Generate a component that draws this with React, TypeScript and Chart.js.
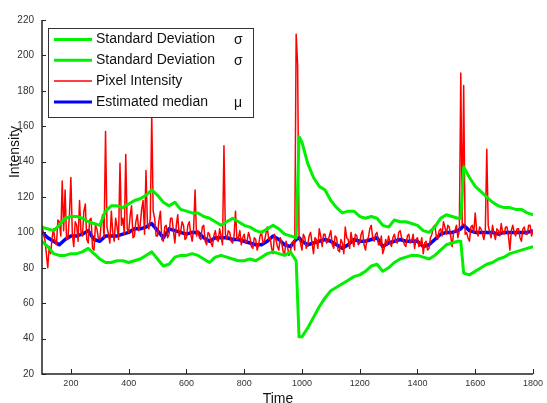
import { useEffect, useRef } from 'react';
import { Chart, registerables } from 'chart.js';

Chart.register(...registerables);

const timeSmooth = [
  100, 120, 140, 160, 180, 200, 220, 240, 260, 280,
  300, 320, 340, 360, 380, 400, 420, 440, 460, 480,
  500, 520, 540, 560, 580, 600, 620, 640, 660, 680,
  700, 720, 740, 760, 780, 800, 820, 840, 860, 880,
  900, 920, 940, 960, 980, 990,
  1000, 1020, 1040, 1060, 1080, 1100, 1120, 1140, 1160, 1180,
  1200, 1220, 1240, 1260, 1280, 1300, 1320, 1340, 1360, 1380,
  1400, 1420, 1440, 1460, 1480, 1500, 1520, 1540, 1550, 1560,
  1580, 1600, 1620, 1640, 1660, 1680, 1700, 1720, 1740, 1760,
  1780, 1800,
];

const upperStd = [
  103, 102, 101, 104, 108, 109, 109, 108, 106, 105,
  104, 112, 115, 115, 114, 116, 118, 119, 121, 124,
  121, 117, 115, 117, 113, 112, 111, 111, 109, 108,
  106, 104, 106, 108, 106, 104, 103, 101, 100, 102,
  104, 102, 99, 98, 97, 154,
  151, 139, 131, 126, 124, 118, 114, 111, 112, 112,
  109, 108, 109, 108, 104, 103, 107, 106, 106, 105,
  104, 101, 100, 103, 108, 110, 109, 108, 108, 137,
  131, 126, 123, 120, 117, 115, 114, 114, 113, 113,
  111, 110,
];

const lowerStd = [
  95, 92, 88, 87, 87, 88, 88, 89, 91, 88,
  85, 83, 83, 84, 84, 83, 84, 85, 87, 89,
  85, 81, 82, 86, 87, 87, 88, 87, 85, 83,
  86, 87, 86, 85, 84, 84, 85, 84, 86, 88,
  89, 88, 87, 89, 84, 41,
  41, 46, 52, 58, 63, 67, 69, 71, 73, 75,
  76, 78, 81, 82, 78, 80, 83, 85, 86, 87,
  87, 86, 85, 87, 90, 93, 94, 95, 95, 77,
  76, 78, 80, 82, 83, 85, 86, 88, 89, 90,
  91, 92,
];

const medianEst = [
  100, 97, 95, 93, 96, 98, 98, 99, 101, 96,
  95, 98, 98, 98, 99, 100, 102, 102, 103, 105,
  101, 97, 102, 101, 100, 99, 100, 100, 97, 95,
  97, 97, 97, 96, 96, 95, 94, 93, 93, 95,
  98, 96, 93, 92, 96, 97,
  95, 93, 94, 95, 96, 95, 93, 91, 93, 96,
  95, 95, 96, 97, 92, 94, 95, 96, 95, 95,
  95, 92, 93, 96, 99, 100, 100, 101, 102, 104,
  101, 100, 100, 100, 100, 99, 100, 100, 100, 100,
  100, 101,
];

// raw samples every 5 time units from 100 to 1800
const rawStart = 100;
const rawStep = 5;
const pixelIntensity = [
  104, 99, 96, 88, 80, 92, 88, 97, 102, 95, 93, 107, 106, 98, 129, 101, 124, 96, 97, 110,
  131, 99, 92, 106, 104, 95, 118, 100, 98, 112, 116, 96, 94, 107, 108, 91, 90, 104, 102, 97,
  96, 105, 110, 97, 157, 103, 99, 94, 112, 100, 95, 108, 103, 96, 139, 104, 108, 99, 144, 102,
  100, 109, 115, 97, 98, 106, 110, 101, 104, 113, 118, 99, 135, 105, 102, 108, 166, 112, 108, 98,
  98, 107, 112, 96, 95, 103, 104, 97, 99, 108, 108, 101, 94, 104, 110, 98, 100, 106, 104, 96,
  97, 104, 106, 99, 95, 102, 124, 98, 101, 97, 96, 103, 104, 95, 93, 100, 99, 94, 92, 98,
  101, 96, 95, 102, 98, 93, 149, 99, 96, 101, 100, 95, 94, 98, 112, 96, 97, 101, 93, 97,
  99, 94, 95, 100, 97, 92, 91, 97, 96, 90, 93, 98, 100, 94, 95, 99, 103, 96, 97, 91,
  88, 99, 96, 92, 90, 97, 94, 89, 88, 95, 92, 87, 89, 94, 95, 90, 212, 195, 98, 94,
  90, 99, 97, 91, 93, 98, 100, 94, 88, 97, 96, 91, 102, 98, 92, 99, 99, 94, 95, 98,
  101, 93, 91, 98, 97, 90, 89, 96, 94, 88, 103, 97, 96, 91, 100, 95, 92, 99, 98, 93,
  94, 99, 101, 93, 90, 96, 97, 102, 104, 97, 95, 99, 100, 93, 93, 98, 88, 91, 96, 93,
  98, 94, 92, 97, 99, 95, 94, 100, 101, 97, 96, 93, 92, 98, 99, 94, 95, 99, 91, 96,
  97, 92, 93, 97, 88, 94, 95, 90, 91, 97, 99, 103, 104, 98, 96, 101, 102, 98, 106, 103,
  99, 104, 103, 98, 92, 100, 101, 104, 97, 101, 190, 104, 183, 99, 100, 97, 95, 103, 104, 100,
  111, 101, 98, 103, 102, 99, 96, 101, 147, 104, 100, 97, 104, 99, 96, 102, 101, 98, 105, 100,
  99, 103, 103, 98, 90, 101, 104, 100, 98, 102, 102, 97, 95, 102, 103, 99, 99, 104, 104, 98,
  101,
];
const timeRaw = pixelIntensity.map((_, i) => rawStart + i * rawStep);

const xTicks = [200, 400, 600, 800, 1000, 1200, 1400, 1600, 1800];
const yTicks = [20, 40, 60, 80, 100, 120, 140, 160, 180, 200, 220];

const legendLabels = ['Standard Deviation', 'Standard Deviation', 'Pixel Intensity', 'Estimated median'];
const legendSymbols = ['σ', 'σ', '', 'μ'];
const seriesColors = ['rgb(0,240,0)', 'rgb(0,240,0)', 'rgb(255,0,0)', 'rgb(0,0,255)'];
const seriesWidths = [3, 3, 1.5, 3.5];

const FONT = '"Liberation Sans", Arial, sans-serif';

const overlayPlugin = {
  id: 'overlay',
  afterDraw(chart: any) {
    const { ctx, chartArea: a, scales } = chart;
    const xs = scales.x;
    const ys = scales.y;
    ctx.save();
    ctx.strokeStyle = '#222';
    ctx.lineWidth = 1.5;
    ctx.beginPath();
    ctx.moveTo(a.left, a.top);
    ctx.lineTo(a.left, a.bottom);
    ctx.lineTo(a.right, a.bottom);
    ctx.stroke();
    ctx.lineWidth = 1;
    ctx.beginPath();
    for (const v of yTicks) {
      const py = Math.round(ys.getPixelForValue(v)) + 0.5;
      ctx.moveTo(a.left, py);
      ctx.lineTo(a.left + 4, py);
    }
    for (const v of xTicks) {
      const px = Math.round(xs.getPixelForValue(v)) + 0.5;
      ctx.moveTo(px, a.bottom);
      ctx.lineTo(px, a.bottom - 5);
    }
    ctx.stroke();

    const bx = 48, by = 28, bw = 205, bh = 89;
    ctx.fillStyle = '#fff';
    ctx.fillRect(bx, by, bw, bh);
    ctx.strokeStyle = '#333';
    ctx.lineWidth = 1;
    ctx.strokeRect(bx + 0.5, by + 0.5, bw, bh);
    ctx.font = `14px ${FONT}`;
    ctx.textBaseline = 'middle';
    ctx.textAlign = 'left';
    for (let i = 0; i < legendLabels.length; i++) {
      const cy = 39.5 + i * 20.8;
      ctx.strokeStyle = seriesColors[i];
      ctx.lineWidth = seriesWidths[i] > 2 ? 3 : 1.5;
      ctx.beginPath();
      ctx.moveTo(54, cy);
      ctx.lineTo(92, cy);
      ctx.stroke();
      ctx.fillStyle = '#111';
      ctx.fillText(legendLabels[i], 96, cy);
      if (legendSymbols[i]) ctx.fillText(legendSymbols[i], 234, cy + 1);
    }

    ctx.fillStyle = '#111';
    ctx.font = `14px ${FONT}`;
    ctx.textAlign = 'center';
    ctx.textBaseline = 'top';
    ctx.fillText('Time', 278, 392);
    ctx.save();
    ctx.translate(8, 152);
    ctx.rotate(-Math.PI / 2);
    ctx.textBaseline = 'top';
    ctx.fillText('Intensity', 0, 0);
    ctx.restore();
    ctx.restore();
  },
};

export default function App() {
  const ref = useRef<HTMLCanvasElement | null>(null);

  useEffect(() => {
    if (!ref.current) return;
    const mk = (t: number[], v: number[]) => t.map((x, i) => ({ x, y: v[i] }));
    const chart = new Chart(ref.current, {
      type: 'line',
      data: {
        datasets: [
          { label: legendLabels[0], data: mk(timeSmooth, upperStd), borderColor: seriesColors[0], borderWidth: seriesWidths[0] },
          { label: legendLabels[1], data: mk(timeSmooth, lowerStd), borderColor: seriesColors[1], borderWidth: seriesWidths[1] },
          { label: legendLabels[2], data: mk(timeRaw, pixelIntensity), borderColor: seriesColors[2], borderWidth: seriesWidths[2] },
          { label: legendLabels[3], data: mk(timeSmooth, medianEst), borderColor: seriesColors[3], borderWidth: seriesWidths[3] },
        ].map((d) => ({ ...d, pointRadius: 0, fill: false, tension: 0, borderJoinStyle: 'round' as const })),
      },
      options: {
        animation: false,
        responsive: false,
        maintainAspectRatio: false,
        layout: { padding: { left: 0, right: 10, top: 20, bottom: 0 } },
        plugins: { legend: { display: false }, tooltip: { enabled: false } },
        scales: {
          x: {
            type: 'linear',
            min: 100,
            max: 1800,
            grid: { display: false, drawTicks: false },
            border: { display: false },
            afterBuildTicks: (s: any) => {
              s.ticks = xTicks.map((v) => ({ value: v }));
            },
            afterFit: (s: any) => {
              s.height = 29;
            },
            ticks: {
              padding: 4,
              autoSkip: false,
              maxRotation: 0,
              color: '#333',
              font: { family: FONT, size: 9 },
              callback: (v: any) => String(v),
            },
          },
          y: {
            min: 20,
            max: 220,
            grid: { display: false, drawTicks: false },
            border: { display: false },
            afterBuildTicks: (s: any) => {
              s.ticks = yTicks.map((v) => ({ value: v }));
            },
            afterFit: (s: any) => {
              s.width = 42;
            },
            ticks: {
              padding: 8,
              autoSkip: false,
              color: '#333',
              font: { family: FONT, size: 10 },
              callback: (v: any) => String(v),
            },
          },
        },
      },
      plugins: [overlayPlugin],
    });
    return () => chart.destroy();
  }, []);

  return (
    <div style={{ position: 'fixed', left: 0, top: 0, width: 547, height: 403, background: '#fff' }}>
      <canvas ref={ref} width={547} height={403} style={{ display: 'block', width: 547, height: 403 }} />
    </div>
  );
}
